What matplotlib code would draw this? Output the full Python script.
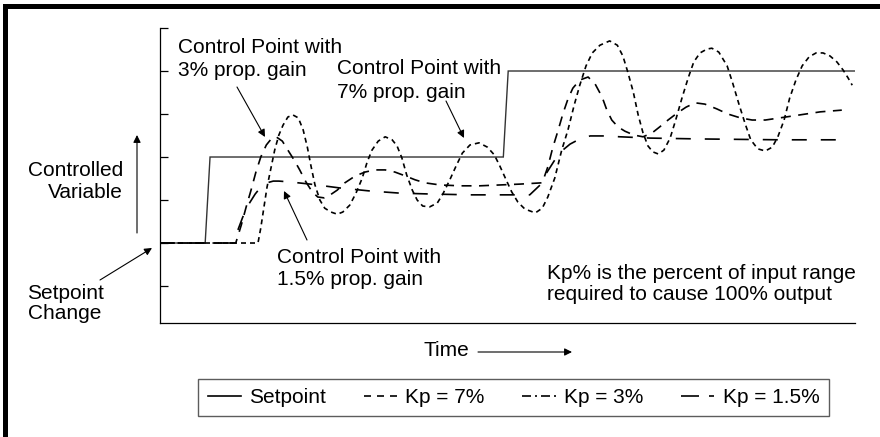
import matplotlib
matplotlib.use("Agg")
import matplotlib.pyplot as plt
from matplotlib.lines import Line2D
from matplotlib.patches import Rectangle

plt.rcParams['font.family'] = ['Liberation Sans', 'DejaVu Sans']

# time (0..100) and controlled variable (tick units)
sp_t = [0, 6.5, 7.2, 49.4, 50.1, 100]
sp_y = [2.0, 2.0, 4.0, 4.0, 6.0, 6.0]

kp7_t = [0, 14.1, 14.5, 15.0, 15.4, 16.0, 16.5, 17.1, 17.7, 18.4, 19.1, 19.9, 20.6,
         21.2, 21.7, 22.3, 23.0, 23.7, 24.6, 25.5, 26.3, 27.3, 28.2, 29.1, 29.8,
         30.5, 31.4, 32.4, 33.4, 34.1, 34.8, 35.5, 36.3, 37.0, 37.8, 38.8, 39.9,
         40.7, 41.7, 42.6, 43.5, 44.6, 45.9, 47.1, 48.1, 48.9, 49.8, 50.6, 51.5,
         52.5, 54.0, 55.0, 55.8, 56.8, 57.8, 58.7, 59.6, 60.4, 61.3, 62.2, 63.3,
         64.7, 65.8, 66.6, 67.3, 68.1, 68.8, 69.5, 70.2, 70.9, 71.7, 72.5, 73.4,
         74.2, 75.1, 76.0, 76.8, 77.7, 78.7, 79.4, 80.4, 81.6, 82.4, 83.3, 84.2,
         85.0, 86.0, 87.1, 88.1, 88.9, 89.8, 90.6, 91.5, 92.4, 93.4, 94.4, 95.4,
         96.4, 97.4, 98.3, 99.0, 99.6]
kp7_y = [2.00, 2.00, 2.35, 2.88, 3.30, 3.77, 4.16, 4.51, 4.74, 4.93, 4.98, 4.91, 4.63,
         4.23, 3.81, 3.35, 3.00, 2.81, 2.72, 2.67, 2.72, 2.88, 3.16, 3.51, 3.88,
         4.16, 4.37, 4.47, 4.40, 4.26, 3.98, 3.58, 3.23, 3.00, 2.86, 2.84, 2.93,
         3.14, 3.47, 3.79, 4.09, 4.28, 4.33, 4.23, 4.05, 3.79, 3.47, 3.19, 2.95,
         2.79, 2.70, 2.81, 3.07, 3.51, 4.16, 4.63, 5.21, 5.67, 6.12, 6.42, 6.60,
         6.70, 6.60, 6.35, 5.98, 5.51, 4.98, 4.56, 4.26, 4.12, 4.07, 4.16, 4.44,
         4.86, 5.37, 5.84, 6.21, 6.42, 6.51, 6.53, 6.44, 6.12, 5.72, 5.23, 4.77,
         4.40, 4.19, 4.14, 4.23, 4.47, 4.86, 5.37, 5.79, 6.12, 6.33, 6.42, 6.42,
         6.35, 6.21, 6.02, 5.84, 5.67]

kp3_t = [0, 10.9, 11.7, 12.4, 13.1, 13.8, 14.5, 15.3, 16.0, 16.7, 17.6, 18.4, 19.3,
         20.1, 21.0, 21.9, 22.7, 23.6, 24.5, 25.5, 26.6, 28.1, 29.5, 30.9, 32.4,
         33.8, 35.3, 36.7, 38.1, 40.3, 43.2, 46.0, 48.9, 51.8, 55.0, 55.8, 56.5,
         57.3, 58.0, 58.7, 59.4, 60.4, 61.6, 62.6, 63.6, 64.3, 65.0, 65.9, 66.9,
         68.2, 69.5, 70.8, 71.9, 73.1, 74.4, 75.7, 77.0, 78.4, 80.1, 81.7, 83.5,
         85.2, 87.1, 89.2, 92.1, 95.0, 98.1]
kp3_y = [2.00, 2.00, 2.42, 2.84, 3.23, 3.65, 4.00, 4.28, 4.42, 4.47, 4.37, 4.16, 3.93,
         3.70, 3.42, 3.19, 3.07, 3.05, 3.12, 3.23, 3.40, 3.56, 3.65, 3.70, 3.70,
         3.65, 3.56, 3.47, 3.40, 3.35, 3.33, 3.33, 3.35, 3.37, 3.40, 3.77, 4.21,
         4.63, 5.02, 5.35, 5.60, 5.79, 5.86, 5.70, 5.40, 5.09, 4.86, 4.70, 4.60,
         4.51, 4.47, 4.56, 4.70, 4.86, 5.02, 5.16, 5.26, 5.23, 5.12, 5.00, 4.91,
         4.86, 4.86, 4.91, 4.98, 5.05, 5.09]

kp15_t = [0, 10.5, 11.2, 11.9, 12.8, 13.7, 14.5, 15.4, 16.3, 17.1, 18.7, 21.6, 25.9,
          30.2, 34.5, 38.8, 44.6, 48.9, 53.2, 54.7, 55.7, 56.8, 57.8, 59.0, 60.4,
          61.9, 64.0, 66.2, 70.5, 77.7, 89.2, 98.6]
kp15_y = [2.00, 2.00, 2.30, 2.60, 2.91, 3.14, 3.30, 3.40, 3.44, 3.44, 3.42, 3.37, 3.28,
          3.21, 3.16, 3.14, 3.12, 3.12, 3.12, 3.35, 3.65, 3.93, 4.14, 4.30, 4.42,
          4.49, 4.49, 4.47, 4.44, 4.42, 4.40, 4.40]

y_ticks = [1, 2, 3, 4, 5, 6, 7]

W, H = 880, 437


def fxy(x, y):
    # pixel position (from top-left) -> figure fraction
    return (x / W, 1 - y / H)


fig = plt.figure(figsize=(W / 100, H / 100), dpi=100)
ax = fig.add_axes([160 / W, 1 - 323 / H, 695 / W, 295 / H])

ax.plot(sp_t, sp_y, color='#333333', lw=1.0, solid_joinstyle='miter')
ax.plot(kp7_t, kp7_y, color='black', lw=1.2, dashes=(3.0, 2.4))
ax.plot(kp3_t, kp3_y, color='black', lw=1.2, dashes=(6.0, 4.5))
ax.plot(kp15_t, kp15_y, color='black', lw=1.2, dashes=(9.0, 8.4))

ax.set_xlim(0, 100)
ax.set_ylim(0.14, 7.0)
ax.spines['top'].set_visible(False)
ax.spines['right'].set_visible(False)
for s in ('left', 'bottom'):
    ax.spines[s].set_linewidth(0.9)
ax.set_xticks([])
ax.set_yticks(y_ticks)
ax.set_yticklabels([])
ax.tick_params(axis='y', direction='in', length=5.5, width=0.9)

fs = 15
arrow = dict(arrowstyle='-|>', color='black', lw=0.8, mutation_scale=11,
             shrinkA=0, shrinkB=0)

fig.text(*fxy(178, 38), "Control Point with\n3% prop. gain", fontsize=fs,
         va='top', ha='left', linespacing=1.3)
fig.text(*fxy(337, 59), "Control Point with\n7% prop. gain", fontsize=fs,
         va='top', ha='left', linespacing=1.3)
fig.text(*fxy(277, 248), "Control Point with\n1.5% prop. gain", fontsize=fs,
         va='top', ha='left', linespacing=1.2)
fig.text(*fxy(547, 264), "Kp% is the percent of input range\nrequired to cause 100% output",
         fontsize=fs, va='top', ha='left', linespacing=1.12)
fig.text(*fxy(123, 161), "Controlled\nVariable", fontsize=fs, va='top', ha='right',
         linespacing=1.18)
fig.text(*fxy(65, 284), "Setpoint\nChange", fontsize=fs, va='top', ha='center',
         linespacing=1.05)
fig.text(*fxy(423, 351), "Time", fontsize=fs, va='center', ha='left')

fig.add_artist(plt.Annotation("", xy=fxy(265, 137), xytext=fxy(237, 87),
                              xycoords='figure fraction', textcoords='figure fraction',
                              arrowprops=arrow))
fig.add_artist(plt.Annotation("", xy=fxy(464, 138), xytext=fxy(446, 101),
                              xycoords='figure fraction', textcoords='figure fraction',
                              arrowprops=arrow))
fig.add_artist(plt.Annotation("", xy=fxy(284, 191), xytext=fxy(307, 240),
                              xycoords='figure fraction', textcoords='figure fraction',
                              arrowprops=arrow))
fig.add_artist(plt.Annotation("", xy=fxy(137, 135), xytext=fxy(137, 233),
                              xycoords='figure fraction', textcoords='figure fraction',
                              arrowprops=arrow))
fig.add_artist(plt.Annotation("", xy=fxy(152, 248), xytext=fxy(100, 280),
                              xycoords='figure fraction', textcoords='figure fraction',
                              arrowprops=arrow))
fig.add_artist(plt.Annotation("", xy=fxy(572, 352), xytext=fxy(478, 352),
                              xycoords='figure fraction', textcoords='figure fraction',
                              arrowprops=arrow))

handles = [
    Line2D([], [], color='black', lw=1.2),
    Line2D([], [], color='black', lw=1.2, dashes=(4.2, 3.6)),
    Line2D([], [], color='black', lw=1.2, dashes=(5.4, 2.4, 1.2, 2.4)),
    Line2D([], [], color='black', lw=1.2, dashes=(10.8, 6.0, 3.6, 6.0)),
]
labels = ["Setpoint", "Kp = 7%", "Kp = 3%", "Kp = 1.5%"]
leg = fig.legend(handles, labels, loc='center', bbox_to_anchor=fxy(513.5, 397.5),
                 ncol=4, fontsize=fs, frameon=True, fancybox=False,
                 handlelength=1.6, handletextpad=0.4, columnspacing=1.8,
                 borderpad=0.45, borderaxespad=0)
leg.get_frame().set_edgecolor('#333333')
leg.get_frame().set_linewidth(1.0)

# frame edges (top and left only)
fig.add_artist(Rectangle((3 / W, 0), 4.5 / W, 1 - 4 / H, transform=fig.transFigure,
                         color='black', lw=0))
fig.add_artist(Rectangle((3 / W, 1 - 9 / H), 1, 5 / H, transform=fig.transFigure,
                         color='black', lw=0))

fig.savefig("out.png", dpi=100)
